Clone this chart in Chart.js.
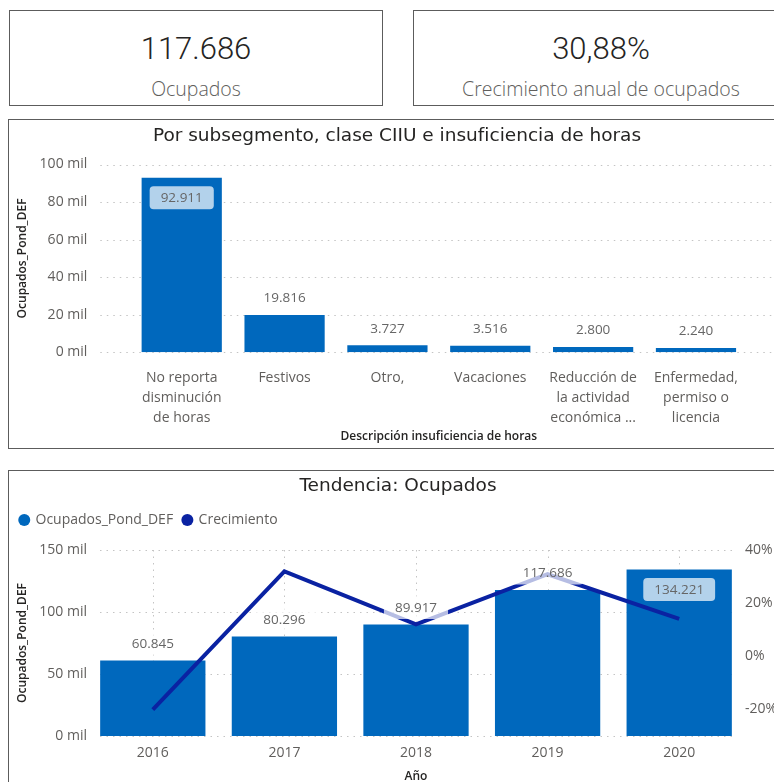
<!DOCTYPE html>
<html lang="es">
<head>
<meta charset="utf-8">
<title>Ocupados</title>
<script src="https://cdn.jsdelivr.net/npm/chart.js@4.4.1/dist/chart.umd.min.js"></script>
<style>
  html, body { margin: 0; padding: 0; width: 774px; height: 782px; overflow: hidden; background: #fff; }
  .box { position: absolute; box-sizing: border-box; border: 1px solid #5c5c5c; background: #fff; }
  .kpi-value { position: absolute; left: 0; right: 0; text-align: center; font-family: Roboto, sans-serif; font-weight: 300; font-size: 31px; line-height: 40px; color: #252423; }
  .kpi-label { position: absolute; left: 0; right: 0; text-align: center; font-family: "Open Sans", sans-serif; font-weight: 300; font-size: 19.5px; line-height: 24px; color: #605E5C; }
  canvas { position: absolute; }
</style>
</head>
<body>
<div class="box" style="left:9px;top:10px;width:374px;height:96px;">
  <div class="kpi-value" id="kpiOcupados" style="top:18px;"></div>
  <div class="kpi-label" style="top:66px;">Ocupados</div>
</div>
<div class="box" style="left:413px;top:10px;width:376px;height:96px;">
  <div class="kpi-value" id="kpiCrecimiento" style="top:18px;"></div>
  <div class="kpi-label" style="top:66px;">Crecimiento anual de ocupados</div>
</div>
<div class="box" style="left:8px;top:119px;width:790px;height:330px;"></div>
<div class="box" style="left:8px;top:470px;width:790px;height:400px;"></div>

<canvas id="causas" width="778" height="331" style="left:8px;top:118px;"></canvas>
<canvas id="tendencia" width="778" height="312" style="left:8px;top:470px;"></canvas>

<script>
// Ocupados by reason of insufficient hours
const causaLabels = [
  ['No reporta', 'disminución', 'de horas'],
  ['Festivos'],
  ['Otro,'],
  ['Vacaciones'],
  ['Reducción de', 'la actividad', 'económica ...'],
  ['Enfermedad,', 'permiso o', 'licencia']
];
const ocupadosPorCausa = [92911, 19816, 3727, 3516, 2800, 2240];
const causaTicks = [0, 20000, 40000, 60000, 80000, 100000];

// Yearly trend
const years = ['2016', '2017', '2018', '2019', '2020'];
const ocupados = [60845, 80296, 89917, 117686, 134221];
const crecimiento = [-20.1, 31.97, 11.98, 30.88, 14.05];
const ocupadosTicks = [0, 50000, 100000, 150000];
const crecimientoTicks = [-20, 0, 20, 40];
const crecimientoRange = [-30, 40];
const kpiYear = '2019';

const BAR = '#0068BD';
const LINE = '#0A22A2';
const TICK = '#605E5C';
const DARK = '#252423';
const BODY_FONT = '"Open Sans", sans-serif';
const TITLE_FONT = '"DejaVu Sans", sans-serif';

const thousands = v => String(Math.round(v)).replace(/\B(?=(\d{3})+(?!\d))/g, '.');
const milLabel = v => (v / 1000) + ' mil';

// KPI cards
const k = years.indexOf(kpiYear);
document.getElementById('kpiOcupados').textContent = thousands(ocupados[k]);
document.getElementById('kpiCrecimiento').textContent = crecimiento[k].toFixed(2).replace('.', ',') + '%';

// Dotted horizontal (and optional vertical) grid lines
const dottedGrid = {
  id: 'dottedGrid',
  beforeDatasetsDraw(chart, args, opts) {
    const { ctx, chartArea: a } = chart;
    const ys = chart.scales[opts.axis];
    ctx.save();
    ctx.strokeStyle = opts.color;
    ctx.lineWidth = 1;
    ctx.setLineDash(opts.dash);
    const x0 = a.left - opts.extendLeft, x1 = a.right + opts.extendRight;
    ys.ticks.forEach(t => {
      const py = Math.round(ys.getPixelForValue(t.value)) + 0.5;
      ctx.beginPath(); ctx.moveTo(x0, py); ctx.lineTo(x1, py); ctx.stroke();
    });
    if (opts.vertical) {
      const xs = chart.scales.x;
      xs.ticks.forEach((t, i) => {
        const px = Math.round(xs.getPixelForTick(i)) + 0.5;
        ctx.beginPath(); ctx.moveTo(px, a.top); ctx.lineTo(px, a.bottom); ctx.stroke();
      });
    }
    ctx.restore();
  }
};

// Value labels for the bars: above the bar, or inside its top when there is no room
const barValueLabels = {
  id: 'barValueLabels',
  afterDatasetsDraw(chart, args, opts) {
    const { ctx, chartArea: a } = chart;
    ctx.save();
    ctx.font = opts.size + 'px ' + BODY_FONT;
    ctx.textAlign = 'center';
    ctx.textBaseline = 'middle';
    chart.data.datasets.forEach((ds, di) => {
      const meta = chart.getDatasetMeta(di);
      if (meta.type !== 'bar') return;
      meta.data.forEach((bar, i) => {
        const text = thousands(ds.data[i]);
        const w = ctx.measureText(text).width + opts.padX * 2;
        const h = opts.boxHeight;
        let cy = bar.y - opts.above;
        if (cy - h / 2 < a.top) cy = bar.y + opts.inside;
        ctx.fillStyle = 'rgba(255,255,255,0.7)';
        ctx.beginPath();
        ctx.roundRect(bar.x - w / 2, cy - h / 2, w, h, 4);
        ctx.fill();
        ctx.fillStyle = '#666666';
        ctx.fillText(text, bar.x, cy + 0.5);
      });
    });
    ctx.restore();
  }
};

Chart.defaults.font.family = BODY_FONT;
Chart.defaults.color = TICK;

const labelOpts = { size: 13.5, padX: 11, boxHeight: 23, above: 17, inside: 20 };
const titleFont = { family: TITLE_FONT, size: 18.5, weight: '400', lineHeight: '22px' };
const axisTitleFont = { size: 12, weight: '600' };

// Chart 1: by reason of insufficient hours
new Chart(document.getElementById('causas'), {
  type: 'bar',
  data: {
    labels: causaLabels,
    datasets: [{
      label: 'Ocupados_Pond_DEF',
      data: ocupadosPorCausa,
      backgroundColor: BAR,
      borderWidth: 0,
      barPercentage: 0.78,
      categoryPercentage: 1
    }]
  },
  options: {
    responsive: false,
    animation: false,
    layout: { padding: 0 },
    plugins: {
      legend: { display: false },
      tooltip: { enabled: false },
      title: {
        display: true,
        text: 'Por subsegmento, clase CIIU e insuficiencia de horas',
        color: DARK,
        font: titleFont,
        padding: { top: 7, bottom: 17.5 }
      },
      dottedGrid: { axis: 'y', color: '#c4c4c4', dash: [1.5, 5], extendLeft: 30, extendRight: 60 },
      barValueLabels: labelOpts
    },
    scales: {
      x: {
        grid: { display: false, drawTicks: false },
        border: { display: false },
        ticks: { color: TICK, font: { size: 14, lineHeight: '20px' }, padding: 15.4, maxRotation: 0, autoSkip: false },
        title: { display: true, text: 'Descripción insuficiencia de horas', color: DARK, font: axisTitleFont, padding: { top: 0, bottom: 5.1 } },
        afterFit(s) { s.height = 96.7; }
      },
      y: {
        min: 0,
        max: causaTicks[causaTicks.length - 1],
        afterBuildTicks(s) { s.ticks = causaTicks.map(v => ({ value: v })); },
        grid: { display: false, drawTicks: false },
        border: { display: false },
        ticks: { color: TICK, font: { size: 14 }, padding: 43, callback: v => milLabel(v) },
        title: { display: true, text: 'Ocupados_Pond_DEF', color: DARK, font: axisTitleFont, padding: { top: 7.8, bottom: 0 } },
        // the wide label gap should not push the plot down
        afterFit(s) { s.width = 122.3; s.paddingTop = 0; s.paddingBottom = 0; }
      },
      // empty right-hand margin axis: keeps the plot narrower than the panel
      margin: {
        position: 'right',
        display: true,
        grid: { display: false, drawTicks: false },
        border: { display: false },
        ticks: { display: false },
        afterFit(s) { s.width = 38.6; }
      }
    }
  },
  plugins: [dottedGrid, barValueLabels]
});

// Chart 2: yearly trend, bars + growth line on a secondary axis
new Chart(document.getElementById('tendencia'), {
  type: 'bar',
  data: {
    labels: years,
    datasets: [{
      type: 'bar',
      label: 'Ocupados_Pond_DEF',
      data: ocupados,
      backgroundColor: BAR,
      borderWidth: 0,
      barPercentage: 0.8,
      categoryPercentage: 1,
      yAxisID: 'y',
      order: 1
    }, {
      type: 'line',
      label: 'Crecimiento',
      data: crecimiento,
      borderColor: LINE,
      backgroundColor: LINE,
      borderWidth: 4,
      pointRadius: 0,
      pointStyle: 'circle',
      tension: 0,
      yAxisID: 'y1',
      order: 0
    }]
  },
  options: {
    responsive: false,
    animation: false,
    layout: { padding: { left: 2, right: 0, top: 0, bottom: 0 } },
    plugins: {
      tooltip: { enabled: false },
      title: {
        display: true,
        text: 'Tendencia: Ocupados',
        color: DARK,
        font: titleFont,
        padding: { top: 5, bottom: 6 }
      },
      // empty subtitle: spacing between the legend and the plot
      subtitle: { display: true, text: '', font: { size: 1, lineHeight: '13px' }, padding: 0 },
      legend: {
        display: true,
        position: 'top',
        align: 'start',
        weight: 1600,
        labels: {
          usePointStyle: true,
          boxWidth: 8.5,
          boxHeight: 8.5,
          padding: 10,
          color: TICK,
          font: { size: 14 },
          sort: (a, b) => a.datasetIndex - b.datasetIndex,
          generateLabels(chart) {
            return Chart.defaults.plugins.legend.labels.generateLabels(chart)
              .map(l => Object.assign(l, { pointStyle: 'circle', lineWidth: 0, strokeStyle: l.fillStyle }));
          }
        }
      },
      dottedGrid: { axis: 'y', color: '#c4c4c4', dash: [1.5, 5], extendLeft: -13, extendRight: -10, vertical: true },
      barValueLabels: labelOpts
    },
    scales: {
      x: {
        grid: { display: false, drawTicks: false },
        border: { display: false },
        ticks: { color: TICK, font: { size: 14, lineHeight: '20px' }, padding: 7.5 },
        title: { display: true, text: 'Año', color: DARK, font: axisTitleFont, padding: { top: 0, bottom: -2 } },
        afterFit(s) { s.height = 46; }
      },
      y: {
        position: 'left',
        min: 0,
        max: ocupadosTicks[ocupadosTicks.length - 1],
        afterBuildTicks(s) { s.ticks = ocupadosTicks.map(v => ({ value: v })); },
        grid: { display: false, drawTicks: false },
        border: { display: false },
        ticks: { color: TICK, font: { size: 14 }, padding: 0, callback: v => milLabel(v) },
        title: { display: true, text: 'Ocupados_Pond_DEF', color: DARK, font: axisTitleFont, padding: { top: 5.8, bottom: 0 } },
        afterFit(s) { s.width = 77; }
      },
      y1: {
        position: 'right',
        min: crecimientoRange[0],
        max: crecimientoRange[1],
        afterBuildTicks(s) { s.ticks = crecimientoTicks.map(v => ({ value: v })); },
        grid: { display: false, drawTicks: false },
        border: { display: false },
        ticks: { color: TICK, font: { size: 14 }, padding: 0, callback: v => v + '%' },
        afterFit(s) { s.width = 41; }
      }
    }
  },
  plugins: [dottedGrid, barValueLabels]
});
</script>
</body>
</html>
